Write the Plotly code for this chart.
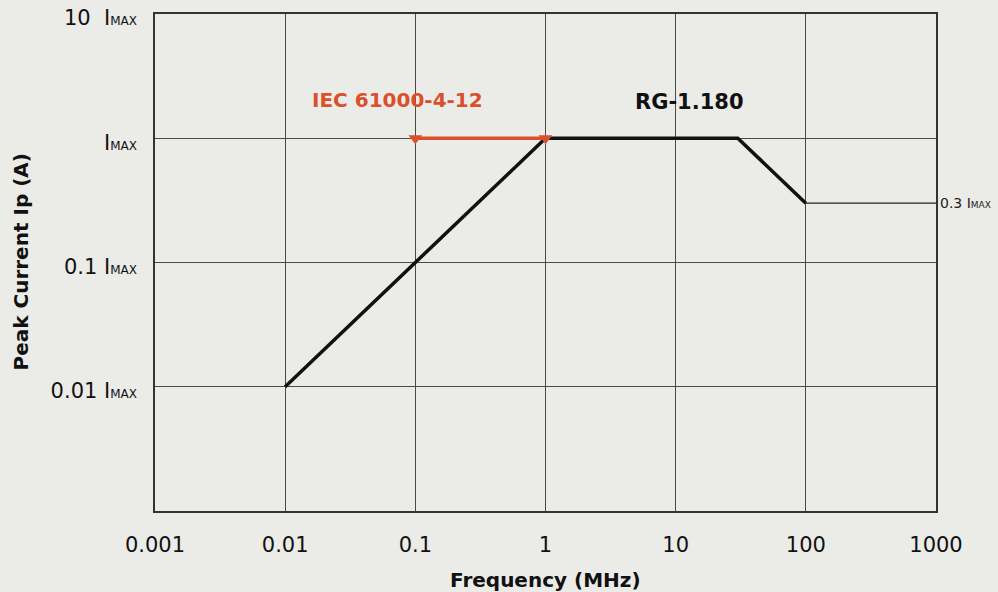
import plotly.graph_objects as go

# Data (current in units of I_MAX, frequency in MHz)
rg_freq = [0.01, 1, 30, 100]
rg_current = [0.01, 1, 1, 0.3]
ext_freq = [100, 1000]
ext_current = [0.3, 0.3]
iec_freq = [0.1, 1]
iec_current = [1, 1]

x_ticks = [0.001, 0.01, 0.1, 1, 10, 100, 1000]
x_tick_labels = ["0.001", "0.01", "0.1", "1", "10", "100", "1000"]
y_ticks = [0.01, 0.1, 1, 10]
small = "<span style='font-size:12px'>MAX</span>"
y_tick_labels = ["0.01 I" + small, "0.1 I" + small, "I" + small, "10  I" + small]

FONT = "DejaVu Sans"
RED = "#d9502c"
BG = "#ebebe8"
GRID = "#4a4a4a"

fig = go.Figure()
fig.add_trace(go.Scatter(x=ext_freq, y=ext_current, mode="lines",
                         line=dict(color="#222", width=1.2), showlegend=False))
fig.add_trace(go.Scatter(x=rg_freq, y=rg_current, mode="lines",
                         line=dict(color="#111", width=3.5), showlegend=False))
fig.add_trace(go.Scatter(x=iec_freq, y=iec_current, mode="lines",
                         line=dict(color=RED, width=3.5), showlegend=False))
fig.add_trace(go.Scatter(x=iec_freq, y=iec_current, mode="markers",
                         marker=dict(symbol="triangle-down", size=12, color=RED,
                                     line=dict(width=0)),
                         showlegend=False))

fig.add_annotation(x=-1.14, y=0.31, xref="x", yref="y", text="<b>IEC 61000-4-12</b>",
                   showarrow=False, font=dict(family=FONT, size=20, color=RED))
fig.add_annotation(x=1.11, y=0.29, xref="x", yref="y", text="<b>RG-1.180</b>",
                   showarrow=False, font=dict(family=FONT, size=21, color="#111"))
fig.add_annotation(x=1.0, y=-0.523, xref="paper", yref="y", xanchor="left", xshift=2,
                   text="0.3 I<span style='font-size:9px'>MAX</span>",
                   showarrow=False, font=dict(family=FONT, size=14, color="#222"))
# axis titles
fig.add_annotation(x=0.5, y=0, xref="paper", yref="paper", yanchor="middle", yshift=-69,
                   text="<b>Frequency (MHz)</b>", showarrow=False,
                   font=dict(family=FONT, size=20, color="#111"))
fig.add_annotation(x=0, y=0.5, xref="paper", yref="paper", xanchor="center",
                   yanchor="middle", xshift=-135, textangle=-90,
                   text="<b>Peak Current Ip (A)</b>", showarrow=False,
                   font=dict(family=FONT, size=20, color="#111"))

fig.update_xaxes(type="log", range=[-3, 3], tickvals=x_ticks, ticktext=x_tick_labels,
                 showgrid=True, gridcolor=GRID, gridwidth=1,
                 showline=True, linecolor="#333", linewidth=1.5, mirror=True,
                 ticks="", ticklabelstandoff=14, automargin=False,
                 tickfont=dict(family=FONT, size=21, color="#111"),
                 zeroline=False)
fig.update_yaxes(type="log", range=[-3, 1], tickvals=y_ticks, ticktext=y_tick_labels,
                 showgrid=True, gridcolor=GRID, gridwidth=1,
                 showline=True, linecolor="#333", linewidth=1.5, mirror=True,
                 ticks="", ticklabelstandoff=12, ticklabelshift=4,
                 ticklabeloverflow="allow", automargin=False,
                 tickfont=dict(family=FONT, size=21, color="#111"),
                 zeroline=False)

fig.update_layout(width=998, height=592,
                  margin=dict(l=155, r=62, t=14, b=81),
                  paper_bgcolor=BG, plot_bgcolor=BG)

fig.write_html("out.html", config={"displayModeBar": False},
               post_script="document.body.style.margin='0';document.body.style.background='#ebebe8';")
